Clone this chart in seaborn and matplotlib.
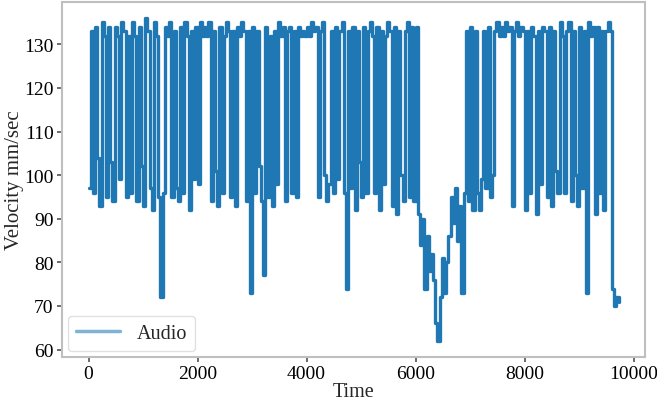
import numpy as np
import pandas as pd
import matplotlib
matplotlib.use('Agg')
import matplotlib.pyplot as plt
import seaborn as sns
from matplotlib.ticker import MultipleLocator

time = np.arange(0, 9760, 40)
velocity = [
    # 0 - 960
    97, 133, 96, 134, 104, 93, 135, 132, 95, 134, 103, 94, 134, 132, 99, 135, 133, 95, 132, 96, 135, 132, 94, 134, 102,
    # 1000 - 1960
    93, 136, 133, 97, 92, 135, 132, 95, 72, 96, 134, 132, 135, 95, 133, 97, 94, 134, 96, 135, 132, 92, 133, 99, 134,
    # 2000 - 2960
    98, 135, 132, 134, 132, 135, 94, 133, 101, 93, 134, 96, 132, 135, 133, 95, 133, 93, 134, 132, 135, 133, 94, 133, 73,
    # 3000 - 3960
    134, 96, 133, 102, 94, 77, 134, 95, 132, 93, 133, 98, 135, 132, 134, 94, 133, 134, 96, 133, 95, 134, 132, 133, 132,
    # 4000 - 4960
    134, 132, 135, 133, 134, 95, 133, 135, 100, 94, 98, 133, 96, 134, 99, 133, 135, 96, 74, 133, 97, 134, 92, 133, 103,
    # 5000 - 5960
    95, 134, 96, 133, 135, 132, 96, 134, 92, 133, 98, 132, 135, 133, 93, 134, 91, 133, 100, 94, 133, 135, 95, 134, 94,
    # 6000 - 6960
    134, 91, 84, 90, 74, 86, 78, 82, 76, 66, 62, 72, 81, 73, 80, 86, 95, 89, 97, 85, 93, 73, 96, 133, 94,
    # 7000 - 7960
    134, 92, 133, 96, 92, 99, 133, 97, 134, 95, 100, 133, 135, 132, 134, 132, 135, 133, 134, 93, 133, 135, 132, 134, 133,
    # 8000 - 8960
    92, 133, 96, 134, 132, 91, 133, 98, 134, 133, 95, 134, 93, 133, 101, 96, 135, 132, 96, 133, 135, 94, 133, 100, 93,
    # 9000 - 9720
    134, 97, 133, 73, 135, 132, 134, 91, 134, 96, 133, 92, 133, 135, 133, 74, 70, 72, 71,
]

df = pd.DataFrame({'Time': time, 'Velocity': velocity})

sns.set_theme(style='white', rc={
    'axes.edgecolor': '0.75',
    'axes.linewidth': 1.5,
    'xtick.bottom': True,
    'ytick.left': True,
    'xtick.color': '0.35',
    'ytick.color': '0.35',
    'xtick.labelcolor': 'black',
    'ytick.labelcolor': 'black',
    'xtick.major.size': 3.5,
    'ytick.major.size': 3.5,
})
plt.rcParams['font.family'] = ['Liberation Serif', 'DejaVu Serif']

fig = plt.figure(figsize=(6.57, 4.06), dpi=100)
ax = fig.add_axes([62 / 657, 48 / 406, 583 / 657, 355 / 406])

sns.lineplot(data=df, x='Time', y='Velocity', ax=ax, label='Audio',
             color='#1f77b4', linewidth=2.4, drawstyle='steps-post')

ax.yaxis.set_major_locator(MultipleLocator(10))
ax.set_xlabel('Time', fontsize=14.5, labelpad=0)
ax.set_ylabel('Velocity mm/sec', fontsize=15, labelpad=0)
ax.tick_params(axis='both', labelsize=14, pad=2.5)
leg = ax.legend(loc='lower left', fontsize=14.5, frameon=True, edgecolor='0.85',
                borderaxespad=0.3, handlelength=2.2)
leg.get_lines()[0].set_color('#7fb3d5')
leg.get_lines()[0].set_linewidth(2.5)

fig.savefig('out.png', dpi=100)
